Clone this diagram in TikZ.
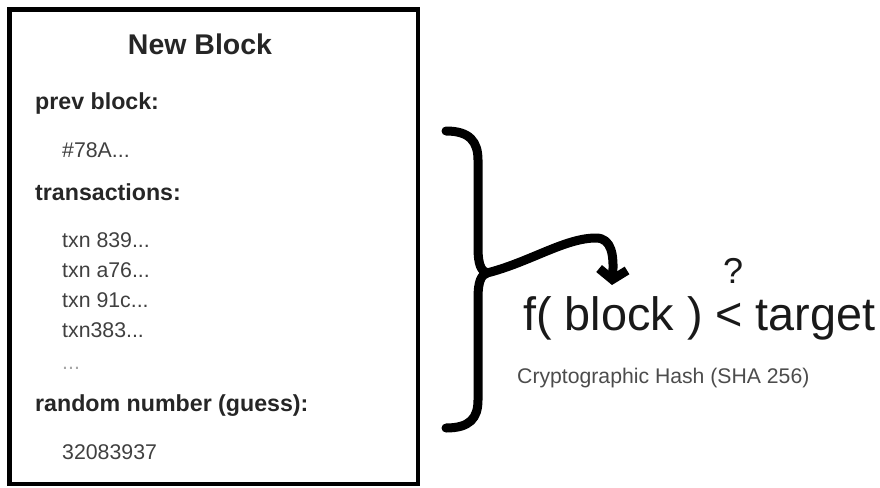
\documentclass[tikz,border=0pt]{standalone}
\usepackage{fontspec}
\setmainfont{Liberation Sans}
\usepackage{tikz}
\usetikzlibrary{arrows.meta}

\newcommand{\txndots}{...}
\tikzset{
  fieldlabel/.style={anchor=base west,inner sep=0pt,font=\bfseries\fontsize{23.2}{27}\selectfont,text=black!85},
  fieldvalue/.style={anchor=base west,inner sep=0pt,font=\fontsize{21.3}{25}\selectfont,text=black!75},
  brace/.style={line width=9pt,line cap=round,line join=round},
}

\begin{document}
\begin{tikzpicture}[x=1pt,y=-1pt]
        \useasboundingbox (0,0) rectangle (880,487);
        %the block
        \draw[line width=4.5pt] (9.5,9.5) rectangle (418,484);
        \node[anchor=base,inner sep=0pt,font=\bfseries\fontsize{28.5}{33}\selectfont,text=black!85] (title) at (200,55) {New Block};
        \node[fieldlabel] (prev) at (35,109) {prev block:};
        \node[fieldvalue] (prevhash) at (62,157) {\#78A\txndots};
        \node[fieldlabel] (txns) at (35,200) {transactions:};
        \foreach \i/\txt in {0/txn 839,1/txn a76,2/txn 91c,3/txn383}
        \node[fieldvalue] (txn\i) at (62,{247+30*\i}) {\txt\txndots};
        \node[fieldvalue,text=black!35] (more) at (62,369) {\txndots};
        \node[fieldlabel] (nonce) at (35,411) {random number (guess):};
        \node[fieldvalue] (guess) at (62,459) {32083937};
        %brace and hash test
        \coordinate (top) at (446,131);
        \coordinate (mid) at (487,273);
        \coordinate (bot) at (446,428);
        \draw[brace] (top) .. controls (470,131) and (478,142) .. (478,160) -- (478,248)
            .. controls (478,264) and (481,271) .. (mid)
            .. controls (481,275) and (478,282) .. (478,298) -- (478,400)
            .. controls (478,418) and (470,428) .. (bot);
        \node[anchor=base west,inner sep=0pt,font=\fontsize{46.8}{50}\selectfont,text=black!90] (test) at (523,330) {f( block ) < target};
        \node[inner sep=0pt,font=\fontsize{36}{40}\selectfont,text=black!90] (qmark) at (733,271) {?};
        \node[anchor=base west,inner sep=0pt,font=\fontsize{21.2}{25}\selectfont,text=black!70] (sha) at (517,383) {Cryptographic Hash (SHA 256)};
        \coordinate (tip) at (612,285);
        \draw[brace,-{Straight Barb[length=10pt,width=28pt]}] (mid) .. controls (530,262) and (565,238) .. (596,238)
            .. controls (612,238) and (614,256) .. (tip);
\end{tikzpicture}
\end{document}
